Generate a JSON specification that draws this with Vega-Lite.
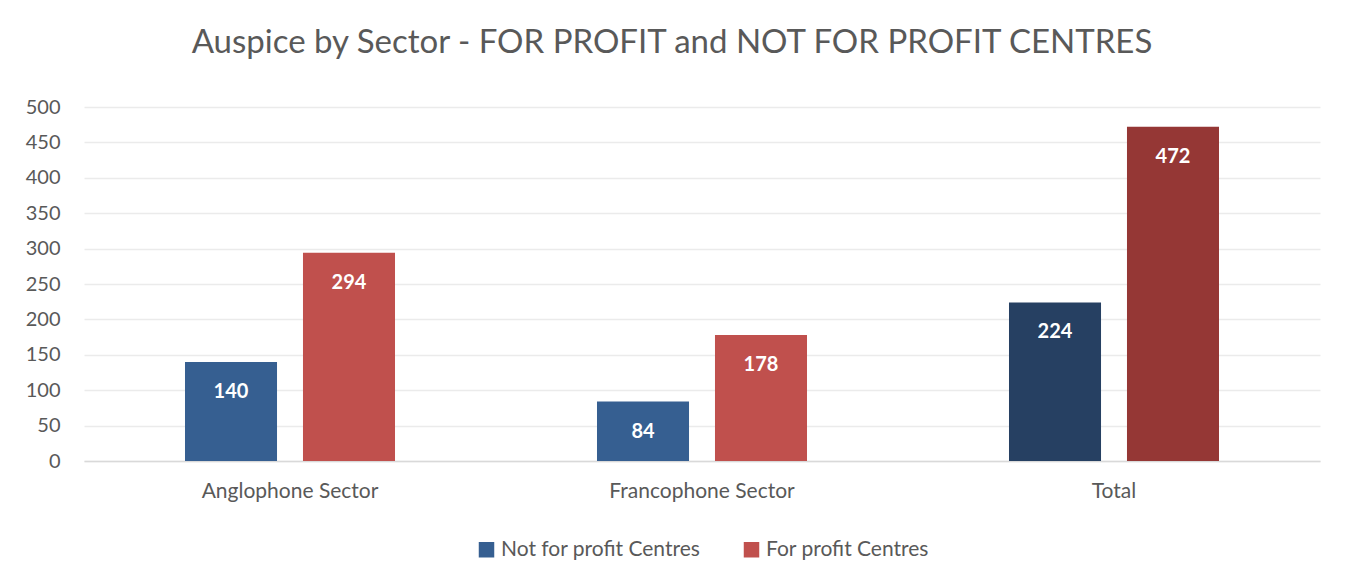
{
  "$schema": "https://vega.github.io/schema/vega-lite/v6.json",
  "autosize": "none",
  "width": 1236,
  "height": 354,
  "padding": {"left": 84, "top": 107, "right": 36, "bottom": 112},
  "background": "white",
  "title": {
    "text": "Auspice by Sector - FOR PROFIT and NOT FOR PROFIT CENTRES",
    "anchor": "middle",
    "font": "Lato",
    "fontSize": 33,
    "fontWeight": "normal",
    "color": "#595959",
    "offset": 37,
    "dx": -30
  },
  "config": {
    "font": "Lato",
    "view": {"stroke": null},
    "axis": {"labelFont": "Lato", "labelColor": "#595959", "labelLimit": 400},
    "legend": {"layout": {"bottom": {"anchor": "middle"}}}
  },
  "data": {
    "values": [
      {"sector": "Anglophone Sector", "series": "Not for profit Centres", "shade": "Not for profit Centres", "value": 140},
      {"sector": "Anglophone Sector", "series": "For profit Centres", "shade": "For profit Centres", "value": 294},
      {"sector": "Francophone Sector", "series": "Not for profit Centres", "shade": "Not for profit Centres", "value": 84},
      {"sector": "Francophone Sector", "series": "For profit Centres", "shade": "For profit Centres", "value": 178},
      {"sector": "Total", "series": "Not for profit Centres", "shade": "Not for profit Centres (Total)", "value": 224},
      {"sector": "Total", "series": "For profit Centres", "shade": "For profit Centres (Total)", "value": 472}
    ]
  },
  "encoding": {
    "x": {
      "field": "sector", "type": "nominal", "sort": null,
      "scale": {"paddingInner": 0, "paddingOuter": 0},
      "axis": {"title": null, "labelAngle": 0, "ticks": false, "domainColor": "#d9d9d9", "domainWidth": 1.5, "labelPadding": 19, "labelFontSize": 21, "labelLimit": 400}
    },
    "xOffset": {
      "field": "series", "type": "nominal",
      "sort": ["Not for profit Centres", "For profit Centres"],
      "scale": {"paddingInner": 0.22, "paddingOuter": 0.856}
    },
    "y": {
      "field": "value", "type": "quantitative",
      "scale": {"domain": [0, 500], "nice": false},
      "axis": {"title": null, "values": [0,50,100,150,200,250,300,350,400,450,500], "labelOverlap": false, "domain": false, "ticks": false, "labelPadding": 24, "labelFontSize": 20, "gridColor": "#ebebeb", "gridWidth": 1.5}
    }
  },
  "layer": [
    {
      "mark": {"type": "bar"},
      "encoding": {
        "color": {
          "field": "shade", "type": "nominal",
          "scale": {
            "domain": ["Not for profit Centres", "For profit Centres", "Not for profit Centres (Total)", "For profit Centres (Total)"],
            "range": ["#365F91", "#C0504D", "#264062", "#953735"]
          },
          "legend": {
            "title": null,
            "orient": "bottom",
            "direction": "horizontal",
            "values": ["Not for profit Centres", "For profit Centres"],
            "symbolType": "square",
            "symbolSize": 240,
            "symbolStrokeWidth": 0,
            "labelFontSize": 21,
            "labelLimit": 400,
            "labelColor": "#595959",
            "labelFont": "Lato",
            "columnPadding": 40,
            "offset": 38
          }
        }
      }
    },
    {
      "mark": {"type": "text", "color": "white", "fontWeight": "bold", "fontSize": 20, "baseline": "top", "dy": 20, "font": "Lato"},
      "encoding": {"text": {"field": "value", "type": "quantitative"}}
    }
  ]
}
